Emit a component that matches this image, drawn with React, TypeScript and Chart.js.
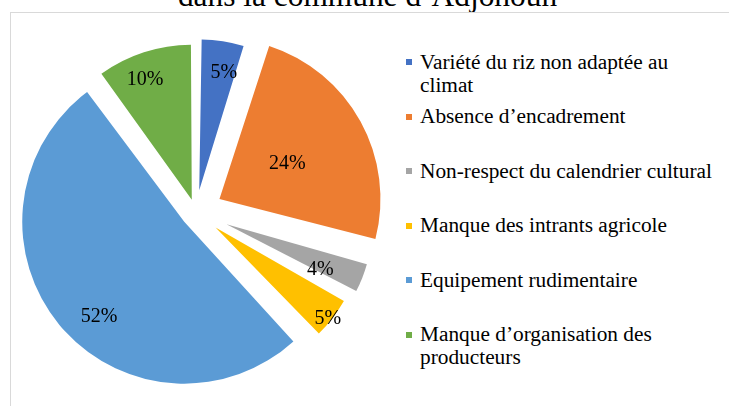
import React, { useEffect, useRef } from "react";
import { Chart, registerables } from "chart.js";

Chart.register(...registerables);

// ---- data ----
const categories = [
  "Variété du riz non adaptée au climat",
  "Absence d’encadrement",
  "Non-respect du calendrier cultural",
  "Manque des intrants agricole",
  "Equipement rudimentaire",
  "Manque d’organisation des producteurs",
];
const percentages = [5, 24, 4, 5, 52, 10];
const titleText = "dans la commune d’Adjohoun";

// ---- styles ----
const colors = ["#4472C4", "#ED7D31", "#A5A5A5", "#FFC000", "#5B9BD5", "#70AD47"];
const explode = [22, 27, 33, 25, 15, 13]; // slice pull-out (px)
const sliceRadius = [151, 161, 146, 148, 162, 155]; // slice radius (px)
const labelSpot: [number, number][] = [
  [0.81, 2.6],
  [0.48, 0.2],
  [0.71, 3.4],
  [0.97, 0.7],
  [0.78, -8],
  [0.84, -3],
]; // [fraction of radius, angle nudge in degrees]

const FONT = '"Liberation Serif", "Times New Roman", serif';

const sliceStylePlugin = {
  id: "sliceStyle",
  afterDatasetsUpdate(chart: any) {
    const meta = chart.getDatasetMeta(0);
    meta.data.forEach((arc: any, i: number) => {
      const circ = arc.endAngle - arc.startAngle;
      const fix = 1 - Math.sin(Math.min(Math.PI, circ));
      arc.outerRadius = sliceRadius[i] - explode[i] * fix;
    });
  },
  afterDatasetsDraw(chart: any) {
    const ctx = chart.ctx;
    const meta = chart.getDatasetMeta(0);
    ctx.save();
    ctx.font = `20px ${FONT}`;
    ctx.fillStyle = "#000";
    ctx.textAlign = "center";
    ctx.textBaseline = "middle";
    meta.data.forEach((arc: any, i: number) => {
      const mid = (arc.startAngle + arc.endAngle) / 2;
      const ax = arc.x + Math.cos(mid) * explode[i];
      const ay = arc.y + Math.sin(mid) * explode[i];
      const [f, nudge] = labelSpot[i];
      const a = mid + (nudge * Math.PI) / 180;
      const r = sliceRadius[i] * f;
      ctx.fillText(`${percentages[i]}%`, ax + Math.cos(a) * r, ay + Math.sin(a) * r + 2);
    });
    ctx.restore();
  },
};

export default function App() {
  const canvasRef = useRef<HTMLCanvasElement | null>(null);

  useEffect(() => {
    document.body.style.margin = "0";
    document.body.style.overflow = "hidden";
    const canvas = canvasRef.current;
    if (!canvas) return;
    const chart = new Chart(canvas, {
      type: "pie",
      data: {
        labels: categories,
        datasets: [
          {
            data: percentages,
            backgroundColor: colors,
            borderWidth: 0,
            hoverBorderWidth: 0,
            offset: explode.map((d) => d * 4),
            hoverOffset: 0,
            radius: 160,
          } as any,
        ],
      },
      options: {
        responsive: false,
        animation: false,
        events: [],
        layout: { padding: { left: 0, top: 18.2, right: 8.4, bottom: 0 } },
        plugins: {
          legend: { display: false },
          tooltip: { enabled: false },
          title: { display: false },
        },
      } as any,
      plugins: [sliceStylePlugin],
    });
    return () => chart.destroy();
  }, []);

  return (
    <div
      style={{
        position: "relative",
        width: 729,
        height: 406,
        overflow: "hidden",
        background: "#fff",
        fontFamily: FONT,
        color: "#000",
      }}
    >
      <div
        style={{
          position: "absolute",
          left: 0,
          top: -20,
          width: 735,
          textAlign: "center",
          fontSize: 31.4,
          lineHeight: "32px",
          whiteSpace: "nowrap",
        }}
      >
        {titleText}
      </div>
      <div
        style={{
          position: "absolute",
          left: 10,
          top: 12,
          width: 800,
          height: 500,
          borderLeft: "1px solid #d9d9d9",
          borderTop: "1px solid #d9d9d9",
        }}
      />
      <canvas
        ref={canvasRef}
        width={400}
        height={406}
        style={{ position: "absolute", left: 0, top: 0, width: 400, height: 406 }}
      />
      <div style={{ position: "absolute", left: 406, top: 50.5 }}>
        {categories.map((c, i) => (
          <div key={c} style={{ display: "flex", alignItems: "flex-start", height: 54.6 }}>
            <div
              style={{
                width: 6,
                height: 6,
                marginTop: 8.5,
                marginRight: 8,
                background: colors[i],
                flex: "none",
              }}
            />
            <div style={{ width: 300, fontSize: 21.33, lineHeight: "23px" }}>{c}</div>
          </div>
        ))}
      </div>
    </div>
  );
}
